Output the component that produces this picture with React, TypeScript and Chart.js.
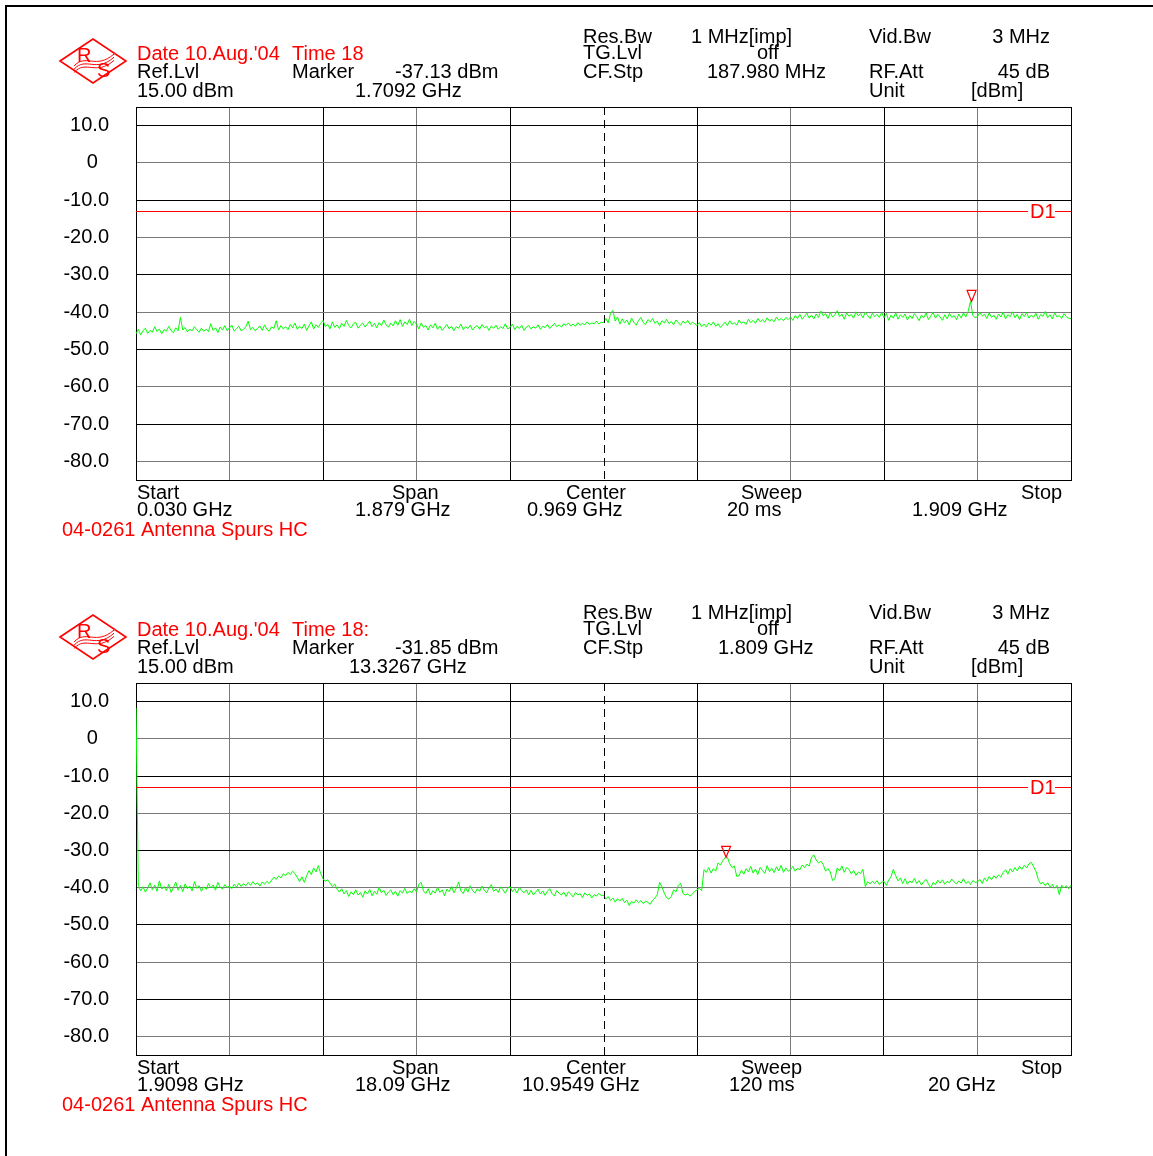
import React, { useEffect, useRef } from 'react';
import { Chart, registerables } from 'chart.js';

Chart.register(...registerables);

const FONT = '"Liberation Sans", Arial, Helvetica, sans-serif';

// ---------- data ----------
const yTickValues = [-85, -80, -70, -60, -50, -40, -30, -20, -10, 0, 10, 15];
const refLevel = 15;
const bottomLevel = -85;
const d1Level = -13;

// top sweep 0.030 .. 1.909 GHz (dBm), 40 points per division
const topTrace = [
  -45.8, -44.6, -46.1, -45.0, -44.3, -45.7, -44.9, -45.4, -43.9, -45.2, -44.5, -45.8, -44.7, -45.1, -43.8, -44.9, -45.5, -44.2, -45.0, -41.4, -44.8, -44.1, -45.3, -44.6, -45.0, -43.9, -44.7, -45.4, -44.3, -45.1, -44.6, -45.2, -43.1, -44.9, -44.2, -45.5, -44.0, -44.8, -43.6, -45.0,
  -44.2, -43.5, -45.1, -44.4, -43.8, -45.0, -44.6, -43.9, -42.4, -44.7, -44.1, -45.0, -44.3, -43.7, -44.9, -43.4, -44.6, -45.1, -43.9, -44.4, -42.3, -44.8, -43.6, -44.5, -43.9, -44.7, -43.3, -44.2, -42.9, -44.6, -43.8, -44.4, -43.2, -44.9, -43.7, -42.6, -44.5, -43.4, -44.1, -43.0,
  -42.2, -43.9, -43.3, -44.5, -42.6, -44.1, -43.4, -44.4, -43.0, -43.8, -42.2, -43.6, -44.2, -43.1, -42.7, -44.3, -43.5, -42.9, -44.0, -43.2, -42.4, -43.9, -43.0, -44.2, -42.8, -43.6, -42.1, -43.4, -44.0, -42.9, -43.7, -42.3, -43.5, -42.0, -43.8, -42.6, -43.3, -41.9, -43.6, -42.5,
  -43.2, -44.5, -42.9, -44.1, -43.6, -44.8, -43.4, -44.2, -43.0, -44.6, -43.7, -44.9, -44.1, -43.3, -44.5, -43.8, -45.0, -43.9, -44.3, -43.2, -44.7, -43.9, -44.4, -43.5, -44.8, -44.0, -43.6, -44.6, -43.3, -44.2, -43.8, -44.9, -43.7, -44.3, -43.5, -44.6, -43.9, -44.4, -43.1, -44.5,
  -44.1, -43.2, -44.7, -43.8, -44.4, -43.5, -44.9, -44.0, -43.6, -44.5, -43.9, -44.3, -43.4, -44.6, -43.8, -44.1, -43.3, -44.4, -43.7, -43.0, -43.9, -43.4, -44.0, -43.1, -43.6, -42.9, -43.7, -43.2, -43.8, -42.8, -43.5, -43.0, -43.4, -42.6, -43.3, -42.9, -43.1, -42.4, -43.2, -42.7,
  -42.8, -41.7, -42.9, -40.3, -39.5, -42.4, -41.3, -43.2, -41.8, -42.9, -42.1, -43.4, -41.6, -42.7, -43.5, -42.2, -41.4, -42.8, -43.3, -42.0, -42.6, -41.7, -43.0, -42.4, -43.6, -42.3, -42.9, -41.9, -43.1, -42.5, -43.4, -42.1, -42.8, -43.5, -42.4, -43.0, -42.2, -43.3, -42.7, -43.1,
  -43.6, -42.8, -43.9, -43.2, -44.0, -42.9, -43.5, -42.6, -43.8, -43.1, -44.1, -43.4, -42.7, -43.6, -42.3, -43.2, -42.8, -43.5, -42.1, -43.0, -42.6, -43.3, -41.9, -42.8, -42.2, -43.0, -41.7, -42.6, -42.0, -42.7, -41.5, -42.4, -41.9, -42.6, -41.3, -42.2, -41.7, -42.3, -41.4, -42.0,
  -41.3, -42.2, -40.9, -41.7, -40.6, -41.9, -41.1, -40.3, -41.6, -40.8, -41.8, -40.5, -41.4, -39.7, -41.0, -40.4, -41.7, -40.1, -41.3, -40.7, -39.6, -41.2, -40.5, -41.9, -40.2, -41.1, -40.6, -41.6, -39.9, -41.0, -40.4, -41.5, -40.0, -40.9, -41.7, -40.3, -41.2, -40.6, -41.4, -40.1,
  -41.5, -40.3, -42.2, -40.8, -41.6, -40.2, -41.9, -40.7, -41.4, -40.5, -42.1, -40.9, -41.7, -40.4, -41.2, -42.3, -40.8, -41.5, -40.2, -42.0, -41.0, -40.1, -41.6, -40.6, -41.3, -42.2, -40.7, -41.8, -40.3, -41.4, -40.9, -42.0, -40.5, -41.6, -40.2, -41.3, -39.8, -37.13, -40.9, -41.5,
  -41.2, -40.1, -41.0, -40.6, -41.7, -40.2, -41.4, -40.8, -41.9, -40.5, -41.3, -40.0, -41.8, -40.7, -41.2, -39.9, -41.5, -40.6, -42.0, -40.4, -41.2, -40.1, -41.6, -40.8, -41.4, -40.3, -41.9, -40.6, -41.1, -39.8, -41.5, -40.7, -41.8, -40.2, -41.3, -40.9, -41.7, -40.4, -41.2, -41.6,
  -41.8,
];

// bottom sweep 1.9098 .. 20 GHz (dBm), 40 points per division
const bottomTrace = [
  8.3, -39.4, -40.9, -39.8, -41.2, -40.1, -38.7, -40.6, -39.3, -41.0, -38.2, -40.4, -39.7, -40.8, -39.1, -41.3, -40.0, -38.5, -40.7, -39.4, -41.1, -39.0, -40.3, -39.6, -40.9, -38.4, -40.2, -39.5, -41.0, -39.8, -40.5, -38.9, -40.1, -39.3, -40.7, -38.6, -39.9, -40.4, -39.2, -40.0,
  -39.6, -40.3, -39.1, -39.9, -38.8, -39.7, -38.9, -39.5, -38.6, -39.4, -38.4, -39.2, -38.7, -39.6, -38.5, -39.1, -38.3, -38.9, -38.0, -37.2, -37.8, -36.9, -37.4, -36.3, -36.8, -35.9, -36.5, -35.6, -36.2, -37.3, -38.4, -37.1, -38.6, -36.8, -35.4, -36.5, -34.7, -35.8, -34.1, -36.2,
  -37.6, -38.3, -37.9, -38.8, -39.7, -39.0, -40.4, -41.2, -40.3, -41.7, -40.8, -42.4, -41.1, -41.9, -40.6, -42.0, -41.3, -42.6, -40.9, -41.7, -40.5, -42.2, -41.0, -41.8, -39.9, -41.4, -40.7, -42.1, -41.2, -40.6, -41.9, -41.0, -42.3, -40.8, -41.5, -40.2, -41.6, -40.9, -41.4, -40.3,
  -41.2, -39.1, -38.6, -40.9, -41.6, -40.3, -42.0, -40.8, -41.5, -39.9, -41.3, -40.6, -42.2, -40.4, -41.1, -39.7, -41.4, -40.2, -38.5, -40.9, -41.6, -40.0, -41.2, -39.5, -40.8, -41.5, -40.3, -41.0, -39.6, -40.7, -41.4, -40.1, -39.2, -41.0, -40.4, -41.3, -39.8, -40.6, -41.5, -40.2,
  -39.7, -41.1, -40.3, -41.5, -39.9, -40.8, -41.4, -40.6, -41.9, -40.7, -42.0, -41.2, -40.4, -41.7, -40.9, -42.1, -41.0, -40.3, -41.6, -42.3, -40.8, -41.5, -42.0, -41.2, -42.4, -41.1, -41.8, -42.5, -41.3, -42.0, -41.6, -42.7, -41.4, -42.1, -41.7, -42.8, -41.9, -42.3, -41.5, -42.2,
  -42.0, -43.1, -42.4, -43.5, -42.8, -43.9, -43.0, -43.6, -42.9, -44.0, -43.4, -44.8, -43.7, -44.2, -43.3, -44.1, -43.5, -44.3, -43.6, -44.0, -44.5, -43.4, -42.8, -41.9, -38.6, -39.8, -41.5, -42.7, -43.1, -42.4, -40.6, -41.2, -39.4, -38.8, -41.6, -42.0, -41.7, -42.3, -41.8, -41.0,
  -40.6, -40.2, -40.8, -35.2, -35.9, -34.6, -36.1, -34.9, -35.6, -33.4, -33.9, -32.8, -32.0, -31.85, -33.6, -34.6, -34.2, -37.0, -36.8, -35.3, -36.4, -34.9, -35.8, -34.3, -36.1, -35.0, -36.5, -34.6, -35.4, -36.2, -34.1, -35.7, -34.8, -36.0, -34.4, -35.5, -34.0, -35.9, -34.7, -35.6,
  -35.1, -34.3, -35.6, -34.8, -35.2, -33.9, -34.6, -33.7, -34.2, -31.8, -31.2, -32.6, -33.4, -32.9, -33.8, -35.6, -34.9, -35.8, -38.1, -37.6, -34.7, -35.5, -34.2, -35.9, -34.6, -35.1, -36.3, -35.4, -36.7, -35.8, -36.2, -35.1, -39.7, -38.4, -39.0, -38.3, -38.9, -38.1, -39.2, -38.5,
  -38.3, -39.4, -38.0, -37.1, -35.1, -36.8, -38.2, -37.4, -38.9, -37.6, -39.1, -38.2, -38.7, -37.5, -38.9, -38.1, -39.3, -38.4, -37.8, -39.0, -40.1, -38.6, -39.2, -38.0, -38.8, -37.9, -39.1, -38.3, -38.7, -37.7, -38.5, -39.0, -38.2, -38.8, -37.6, -38.9, -38.3, -39.2, -38.1, -38.6,
  -38.5, -37.8, -38.9, -37.4, -38.3, -37.0, -37.9, -36.8, -37.5, -36.6, -37.2, -35.9, -35.2, -36.4, -34.9, -35.8, -34.6, -35.5, -34.3, -35.1, -34.0, -34.7, -33.6, -33.2, -34.4, -35.6, -37.8, -39.0, -38.6, -39.5, -38.7, -39.8, -39.1, -40.2, -39.4, -41.9, -39.3, -40.1, -39.5, -40.3,
  -39.3,
];

// ---------- texts ----------
const topInfo = {
  start: 0.03,
  stop: 1.909,
  markerFreq: 1.7092,
  markerLevel: -37.13,
  date: "Date 10.Aug.'04",
  time: 'Time 18',
  markerText: '-37.13 dBm',
  markerFreqText: '1.7092 GHz',
  cfStp: '187.980 MHz',
  bottomTexts: ['0.030 GHz', '1.879 GHz', '0.969 GHz', '20 ms', '1.909 GHz'],
};

const bottomInfo = {
  start: 1.9098,
  stop: 20,
  markerFreq: 13.3267,
  markerLevel: -31.85,
  date: "Date 10.Aug.'04",
  time: 'Time 18:',
  markerText: '-31.85 dBm',
  markerFreqText: '13.3267 GHz',
  cfStp: '1.809 GHz',
  bottomTexts: ['1.9098 GHz', '18.09 GHz', '10.9549 GHz', '120 ms', '20 GHz'],
};

const footerTitle = '04-0261 Antenna Spurs HC';

// text placement (layout only)
const topLayout = { markerFreqX: 355, cfStpX: 707, bottomX: [137, 355, 527, 727, 912] };
const bottomLayout = { markerFreqX: 349, cfStpX: 718, bottomX: [137, 355, 522, 729, 928] };

type Info = typeof topInfo;
type Layout = typeof topLayout;

function drawLogo(ctx: CanvasRenderingContext2D, cx: number, cy: number) {
  ctx.save();
  ctx.strokeStyle = '#ff0000';
  ctx.fillStyle = '#ff0000';
  ctx.lineWidth = 1.6;
  ctx.beginPath();
  ctx.moveTo(cx - 33, cy);
  ctx.lineTo(cx, cy - 22);
  ctx.lineTo(cx + 33, cy);
  ctx.lineTo(cx, cy + 22);
  ctx.closePath();
  ctx.stroke();
  ctx.lineWidth = 1;
  for (let k = 0; k < 3; k++) {
    const o = k * 3.2;
    ctx.beginPath();
    ctx.moveTo(cx - 19, cy + 5 + o);
    ctx.bezierCurveTo(cx - 7, cy - 8 + o, cx + 3, cy + 9 + o, cx + 21, cy - 7 + o);
    ctx.stroke();
  }
  ctx.font = `20px ${FONT}`;
  ctx.textBaseline = 'alphabetic';
  ctx.textAlign = 'left';
  ctx.fillText('R', cx - 16, cy + 1);
  ctx.fillText('S', cx + 4, cy + 16);
  ctx.restore();
}

function makePlugin(info: Info, lay: Layout) {
  return {
    id: 'fsp',
    afterDraw(chart: any) {
      const ctx: CanvasRenderingContext2D = chart.ctx;
      const xs = chart.scales.x;
      const ys = chart.scales.y;
      const a = chart.chartArea;
      ctx.save();
      // centre dashed line
      const cxv = (info.start + info.stop) / 2;
      const cx = Math.round(xs.getPixelForValue(cxv)) + 0.5;
      ctx.strokeStyle = '#000';
      ctx.lineWidth = 1;
      ctx.setLineDash([8, 5]);
      ctx.beginPath();
      ctx.moveTo(cx, a.top);
      ctx.lineTo(cx, a.bottom);
      ctx.stroke();
      ctx.setLineDash([]);

      // D1 line
      const yd = Math.round(ys.getPixelForValue(d1Level)) + 0.5;
      ctx.strokeStyle = '#ff0000';
      ctx.beginPath();
      ctx.moveTo(a.left, yd);
      ctx.lineTo(a.right - 43, yd);
      ctx.moveTo(a.right - 16, yd);
      ctx.lineTo(a.right, yd);
      ctx.stroke();
      ctx.fillStyle = '#ff0000';
      ctx.font = `20px ${FONT}`;
      ctx.textBaseline = 'middle';
      ctx.textAlign = 'left';
      ctx.fillText('D1', a.right - 41, yd + 1);

      // marker
      const mx = xs.getPixelForValue(info.markerFreq);
      const my = ys.getPixelForValue(info.markerLevel);
      ctx.strokeStyle = '#ff0000';
      ctx.lineWidth = 1.2;
      ctx.beginPath();
      ctx.moveTo(mx, my);
      ctx.lineTo(mx - 4.5, my - 11);
      ctx.lineTo(mx + 4.5, my - 11);
      ctx.closePath();
      ctx.stroke();

      // header / footer texts
      ctx.textBaseline = 'alphabetic';
      ctx.font = `20px ${FONT}`;
      const red = '#ff0000';
      const blk = '#000000';
      const items: [string, number, number, string, boolean][] = [
        [info.date, 137, 60, red, false],
        [info.time, 292, 60, red, false],
        ['Ref.Lvl', 137, 78, blk, false],
        ['Marker', 292, 78, blk, false],
        [info.markerText, 395, 78, blk, false],
        ['15.00 dBm', 137, 97, blk, false],
        [info.markerFreqText, lay.markerFreqX, 97, blk, false],
        ['Res.Bw', 583, 43, blk, false],
        ['1 MHz[imp]', 691, 43, blk, false],
        ['Vid.Bw', 869, 43, blk, false],
        ['3 MHz', 1050, 43, blk, true],
        ['TG.Lvl', 583, 59, blk, false],
        ['off', 757, 59, blk, false],
        ['CF.Stp', 583, 78, blk, false],
        [info.cfStp, lay.cfStpX, 78, blk, false],
        ['RF.Att', 869, 78, blk, false],
        ['45 dB', 1050, 78, blk, true],
        ['Unit', 869, 97, blk, false],
        ['[dBm]', 971, 97, blk, false],
        ['Start', 137, a.bottom + 19, blk, false],
        ['Span', 392, a.bottom + 19, blk, false],
        ['Center', 566, a.bottom + 19, blk, false],
        ['Sweep', 741, a.bottom + 19, blk, false],
        ['Stop', 1021, a.bottom + 19, blk, false],
        [footerTitle, 62, a.bottom + 56, red, false],
      ];
      info.bottomTexts.forEach((t, i) => items.push([t, lay.bottomX[i], a.bottom + 36, blk, false]));
      for (const [t, x, y, c, right] of items) {
        ctx.fillStyle = c;
        ctx.textAlign = right ? 'right' : 'left';
        ctx.fillText(t, x, y);
      }

      drawLogo(ctx, 93, 61);
      ctx.restore();
    },
  };
}

function gridColor(idx: number, last: number) {
  if (idx === 0 || idx === last) return '#000000';
  return idx % 2 === 1 ? '#7a7a7a' : '#000000';
}

function SpectrumPlot({ info, lay, trace, height, top, plotBottom }: { info: Info; lay: Layout; trace: number[]; height: number; top: number; plotBottom: number }) {
  const ref = useRef<HTMLCanvasElement>(null);
  useEffect(() => {
    const n = trace.length;
    const step = (info.stop - info.start) / (n - 1);
    const points = trace.map((v, i) => ({ x: info.start + i * step, y: v }));
    const xTicks = Array.from({ length: 11 }, (_, k) => info.start + (k * (info.stop - info.start)) / 10);
    const chart = new Chart(ref.current as HTMLCanvasElement, {
      type: 'line',
      data: {
        datasets: [
          {
            data: points,
            borderColor: '#00ff00',
            borderWidth: 1,
            pointRadius: 0,
            fill: false,
            tension: 0,
          },
        ],
      },
      options: {
        animation: false,
        responsive: false,
        devicePixelRatio: 1,
        events: [],
        layout: { padding: { left: 0, right: 82, top: 107, bottom: height - plotBottom } },
        plugins: { legend: { display: false }, tooltip: { enabled: false } },
        scales: {
          x: {
            type: 'linear',
            min: info.start,
            max: info.stop,
            afterBuildTicks: (s: any) => {
              s.ticks = xTicks.map((value) => ({ value }));
            },
            afterFit: (s: any) => {
              s.height = 0;
            },
            ticks: { display: false },
            grid: {
              drawTicks: false,
              lineWidth: 1,
              color: (c: any) => (c.index === 5 ? 'rgba(0,0,0,0)' : gridColor(c.index, 10)),
            },
            border: { display: true, color: '#000' },
          },
          y: {
            type: 'linear',
            min: bottomLevel,
            max: refLevel,
            afterBuildTicks: (s: any) => {
              s.ticks = yTickValues.map((value) => ({ value }));
            },
            afterFit: (s: any) => {
              s.width = 136;
            },
            ticks: {
              autoSkip: false,
              padding: 27,
              color: '#000',
              font: { family: FONT, size: 20 },
              callback: (v: any) => {
                const n = Number(v);
                if (n === refLevel || n === bottomLevel) return '';
                if (n === 0) return '0  ';
                return n.toFixed(1);
              },
            },
            grid: {
              drawTicks: false,
              lineWidth: 1,
              color: (c: any) => gridColor(c.index, yTickValues.length - 1),
            },
            border: { display: true, color: '#000' },
          },
        },
      },
      plugins: [makePlugin(info, lay)],
    } as any);
    return () => chart.destroy();
  }, []);
  return (
    <canvas
      ref={ref}
      width={1153}
      height={height}
      style={{ position: 'absolute', left: 0, top, width: 1153, height, display: 'block' }}
    />
  );
}

export default function App() {
  return (
    <div style={{ position: 'absolute', left: 0, top: 0, width: 1153, height: 1156, background: '#fff', overflow: 'hidden' }}>
      <SpectrumPlot info={topInfo} lay={topLayout} trace={topTrace} height={576} top={0} plotBottom={480} />
      <SpectrumPlot info={bottomInfo} lay={bottomLayout} trace={bottomTrace} height={580} top={576} plotBottom={479} />
      <div
        style={{
          position: 'absolute',
          left: 5,
          top: 5,
          width: 1148,
          height: 1151,
          borderLeft: '2px solid #000',
          borderTop: '2px solid #000',
          boxSizing: 'border-box',
          pointerEvents: 'none',
        }}
      />
    </div>
  );
}
